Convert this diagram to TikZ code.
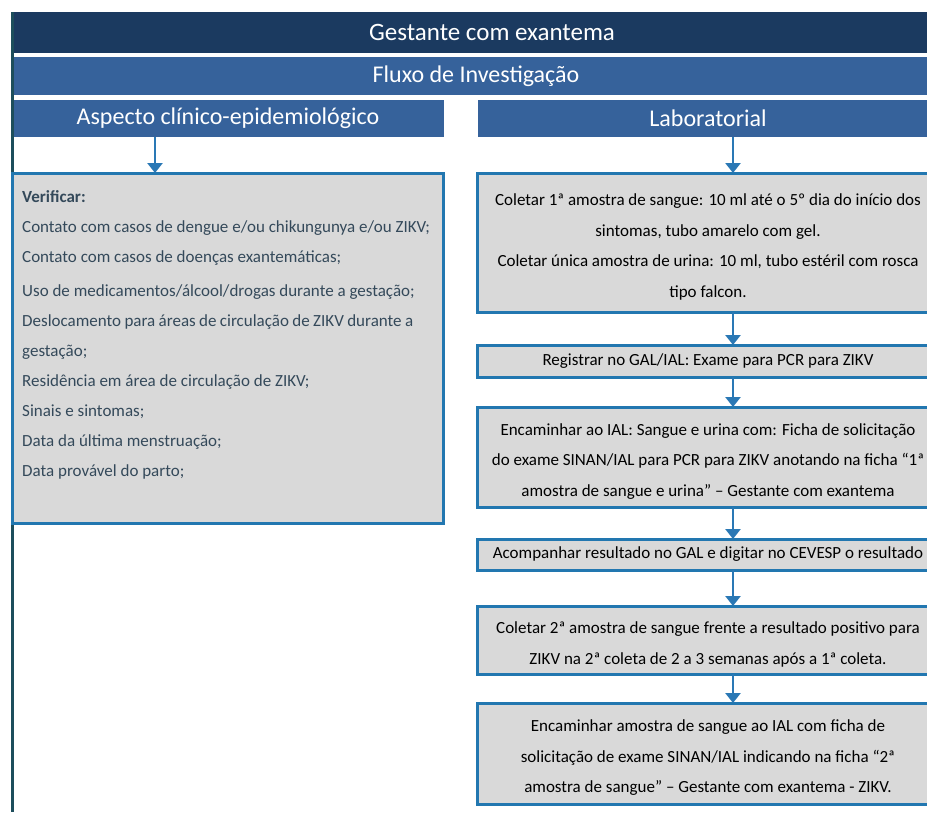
\documentclass[tikz,border=0pt]{standalone}
\usepackage{fontspec}
\setmainfont{Carlito}
\usetikzlibrary{arrows.meta}
\definecolor{navy}{HTML}{1B3A60}
\definecolor{midblue}{HTML}{36629B}
\definecolor{bord}{HTML}{2277B0}
\definecolor{boxfill}{HTML}{D9D9D9}
\definecolor{arr}{HTML}{2A78B5}
\definecolor{framec}{HTML}{1D4E5C}
\definecolor{lefttext}{HTML}{34495A}
\begin{document}
\begin{tikzpicture}[x=1pt,y=-1pt,
  barbox/.style={anchor=north west, inner sep=0pt, outer sep=0pt, draw=none, text=white,
     font=\fontsize{24}{28}\selectfont},
  stepbox/.style={anchor=north west, inner sep=0pt, outer sep=0pt, draw=bord, line width=3pt,
     fill=boxfill},
  steptext/.style={inner sep=0pt, align=center, text=black, yshift=-4.5pt, xshift=-1pt,
     font=\fontsize{17}{30.5}\selectfont},
  flowarrow/.style={draw=arr, line width=2.6pt, -{Triangle[length=10pt,width=15pt]}}
]
\useasboundingbox (0,0) rectangle (927,812);
\clip (0,0) rectangle (927,812);
\fill[white] (0,0) rectangle (927,812);

% headers
\node[barbox, fill=navy, minimum width=960pt, minimum height=41pt,
      font=\fontsize{25}{28}\selectfont] (h1) at (12,12) {Gestante com exantema};
\node[barbox, fill=midblue, minimum width=928pt, minimum height=38pt] (h2) at (12,57) {Fluxo de Investigação};
\node[barbox, fill=midblue, minimum width=432pt, minimum height=37pt] (sl) at (12,100) {Aspecto clínico-epidemiológico};
\node[barbox, fill=midblue, minimum width=460pt, minimum height=37pt] (sr) at (478,100) {Laboratorial};

% outer frame line
\coordinate (ftop) at (12,12);
\coordinate (fbot) at (12,812);
\draw[framec, line width=3pt] (ftop) -- (fbot);

% left box
\node[stepbox, minimum width=431pt, minimum height=350pt] (lb) at (12,173) {};
\node[anchor=north west, inner sep=0pt, align=left, text=lefttext,
      font=\fontsize{17}{30}\selectfont] (lt) at (22,190) {%
\textbf{Verificar:}\\
Contato com casos de dengue e/ou chikungunya e/ou ZIKV;\\
Contato com casos de doenças exantemáticas;\\[4pt]
Uso de medicamentos/álcool/drogas durante a gestação;\\
\makebox[391pt][s]{Deslocamento para áreas de circulação de ZIKV durante a}\\
gestação;\\
Residência em área de circulação de ZIKV;\\
Sinais e sintomas;\\
Data da última menstruação;\\
Data provável do parto;};

% right boxes
\node[stepbox, minimum width=464pt, minimum height=139pt] (b1) at (477,173) {};
\node[steptext] (t1) at (b1.center) {%
Coletar 1ª amostra de sangue: 10 ml até o 5º dia do início dos\\
sintomas, tubo amarelo com gel.\\
Coletar única amostra de urina: 10 ml, tubo estéril com rosca\\
tipo falcon.};
\node[stepbox, minimum width=464pt, minimum height=32pt] (b2) at (477,345) {};
\node[steptext, yshift=4.5pt] (t2) at (b2.center) {Registrar no GAL/IAL: Exame para PCR para ZIKV};
\node[stepbox, minimum width=464pt, minimum height=100pt] (b3) at (477,407) {};
\node[steptext] (t3) at (b3.center) {%
Encaminhar ao IAL: Sangue e urina com: Ficha de solicitação\\
do exame SINAN/IAL para PCR para ZIKV anotando na ficha “1ª\\
amostra de sangue e urina” – Gestante com exantema};
\node[stepbox, minimum width=464pt, minimum height=31pt] (b4) at (477,539) {};
\node[steptext, yshift=4.5pt] (t4) at (b4.center) {Acompanhar resultado no GAL e digitar no CEVESP o resultado};
\node[stepbox, minimum width=464pt, minimum height=68pt] (b5) at (477,606) {};
\node[steptext] (t5) at (b5.center) {%
Coletar 2ª amostra de sangue frente a resultado positivo para\\
ZIKV na 2ª coleta de 2 a 3 semanas após a 1ª coleta.};
\node[stepbox, minimum width=464pt, minimum height=101pt] (b6) at (477,703) {};
\node[steptext] (t6) at (b6.center) {%
Encaminhar amostra de sangue ao IAL com ficha de\\
solicitação de exame SINAN/IAL indicando na ficha “2ª\\
amostra de sangue” – Gestante com exantema - ZIKV.};

% arrows
\coordinate (axl) at (155,0);
\coordinate (axr) at (733,0);
\draw[flowarrow] (sl.south -| axl) -- (lb.north -| axl);
\draw[flowarrow] (sr.south -| axr) -- (b1.north -| axr);
\draw[flowarrow] (b1.south -| axr) -- (b2.north -| axr);
\draw[flowarrow] (b2.south -| axr) -- (b3.north -| axr);
\draw[flowarrow] (b3.south -| axr) -- (b4.north -| axr);
\draw[flowarrow] (b4.south -| axr) -- (b5.north -| axr);
\draw[flowarrow] (b5.south -| axr) -- (b6.north -| axr);
\end{tikzpicture}
\end{document}
